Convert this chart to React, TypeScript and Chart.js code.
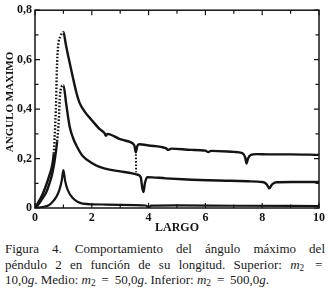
import React, { useEffect, useRef } from "react";
import { Chart, registerables } from "chart.js";

Chart.register(...registerables);

// Superior: m2 = 10,0 g
const xTop = [0, 0.1, 0.2, 0.3, 0.4, 0.5, 0.6, 0.66, 0.72, 0.745, 0.77, 0.81, 0.9, 1.0, 1.08, 1.15, 1.33, 1.45, 1.57, 1.75, 2.0, 2.27, 2.45, 2.5, 2.55, 2.97, 3.2, 3.43, 3.5, 3.55, 3.6, 3.67, 4.0, 4.6, 4.7, 4.8, 5.5, 6.0, 6.1, 6.2, 7.0, 7.3, 7.4, 7.45, 7.5, 7.6, 7.8, 8.2, 9.0, 10];
const yTop = [0, 0.02, 0.04, 0.065, 0.095, 0.13, 0.17, 0.22, 0.36, 0.44, 0.56, 0.65, 0.695, 0.712, 0.665, 0.625, 0.53, 0.47, 0.425, 0.39, 0.355, 0.32, 0.302, 0.292, 0.3, 0.28, 0.272, 0.262, 0.252, 0.225, 0.25, 0.258, 0.253, 0.242, 0.235, 0.24, 0.235, 0.232, 0.226, 0.231, 0.227, 0.222, 0.205, 0.18, 0.2, 0.215, 0.218, 0.217, 0.217, 0.215];

// Medio: m2 = 50,0 g
const xMid = [0, 0.1, 0.2, 0.3, 0.4, 0.51, 0.6, 0.69, 0.78, 0.84, 0.87, 0.93, 1.0, 1.1, 1.22, 1.35, 1.47, 1.68, 2.03, 2.3, 2.62, 3.0, 3.43, 3.6, 3.72, 3.78, 3.82, 3.87, 3.95, 4.6, 5.2, 5.8, 6.9, 7.5, 8.0, 8.15, 8.25, 8.35, 8.5, 9.0, 10];
const yMid = [0, 0.012, 0.028, 0.045, 0.065, 0.1, 0.135, 0.19, 0.27, 0.36, 0.44, 0.49, 0.497, 0.42, 0.33, 0.28, 0.25, 0.21, 0.18, 0.165, 0.155, 0.148, 0.14, 0.135, 0.125, 0.08, 0.065, 0.1, 0.125, 0.12, 0.116, 0.113, 0.11, 0.108, 0.105, 0.097, 0.08, 0.096, 0.104, 0.105, 0.105];

// Inferior: m2 = 500,0 g
const xLow = [0, 0.3, 0.5, 0.63, 0.75, 0.86, 0.94, 1.0, 1.06, 1.15, 1.33, 1.68, 2.5, 3.5, 3.9, 4.0, 4.1, 5.0, 7.0, 10];
const yLow = [0, 0.005, 0.012, 0.026, 0.045, 0.073, 0.11, 0.153, 0.11, 0.073, 0.04, 0.018, 0.014, 0.012, 0.01, 0.004, 0.01, 0.011, 0.009, 0.008];

// Salto punteado entre la curva superior y la media
const xJump = [3.55, 3.56];
const yJump = [0.245, 0.145];

const xTickValues = [0, 1, 2, 3, 4, 5, 6, 7, 8, 9, 10];
const yTickValues = [0, 0.1, 0.2, 0.3, 0.4, 0.5, 0.6, 0.7, 0.8];

const xTitle = "LARGO";
const yTitle = "ANGULO MAXIMO";

const toPoints = (xs: number[], ys: number[]) => xs.map((x, i) => ({ x, y: ys[i] }));

const INK = "#141414";
const TICK_FONT = { family: "'Liberation Serif', serif", size: 12, weight: "bold" as const };

const framePlugin = {
  id: "frameTicks",
  afterDraw(chart: any) {
    const { ctx, chartArea } = chart;
    const { left, right, top, bottom } = chartArea;
    const xs = chart.scales.x;
    const ys = chart.scales.y;
    ctx.save();
    ctx.strokeStyle = INK;
    ctx.lineWidth = 1.5;
    ctx.strokeRect(left, top, right - left, bottom - top);
    ctx.lineWidth = 1.2;
    ctx.beginPath();
    xTickValues.forEach((v) => {
      const px = xs.getPixelForValue(v);
      const len = v % 2 === 0 ? 5 : 3.5;
      ctx.moveTo(px, bottom);
      ctx.lineTo(px, bottom - len);
      ctx.moveTo(px, top);
      ctx.lineTo(px, top + len);
    });
    yTickValues.forEach((v, i) => {
      const py = ys.getPixelForValue(v);
      const len = i % 2 === 0 ? 5 : 3.5;
      ctx.moveTo(left, py);
      ctx.lineTo(left + len, py);
      ctx.moveTo(right, py);
      ctx.lineTo(right - len, py);
    });
    ctx.stroke();
    // y axis title
    ctx.fillStyle = INK;
    ctx.font = "bold 11px 'Liberation Serif', serif";
    ctx.textAlign = "center";
    ctx.textBaseline = "middle";
    ctx.translate(10, 102);
    ctx.rotate(-Math.PI / 2);
    ctx.fillText(yTitle, 0, 0);
    ctx.restore();
  },
};

export default function App() {
  const ref = useRef<HTMLCanvasElement | null>(null);

  useEffect(() => {
    if (!ref.current) return;
    const dotted = (ctx: any) =>
      ctx.p1.parsed.y > ctx.p0.parsed.y && ctx.p0.parsed.y >= 0.2 && ctx.p1.parsed.x <= 1.0 ? [1.6, 1.8] : undefined;
    const lineStyle = {
      borderColor: INK,
      borderWidth: 2.4,
      pointRadius: 0,
      fill: false,
      showLine: true,
      cubicInterpolationMode: "monotone" as const,
      segment: { borderDash: dotted },
    };
    const chart = new Chart(ref.current, {
      type: "scatter",
      data: {
        datasets: [
          { label: "m2 = 10,0g", data: toPoints(xTop, yTop), ...lineStyle },
          { label: "m2 = 50,0g", data: toPoints(xMid, yMid), ...lineStyle },
          { label: "m2 = 500,0g", data: toPoints(xLow, yLow), ...lineStyle, borderWidth: 2.2 },
          {
            label: "salto",
            data: toPoints(xJump, yJump),
            borderColor: INK,
            borderWidth: 2,
            pointRadius: 0,
            showLine: true,
            borderDash: [1.6, 1.8],
          },
        ],
      },
      options: {
        responsive: false,
        animation: false,
        devicePixelRatio: 1,
        layout: { padding: { left: 0, top: 10, right: 7, bottom: 0 } },
        plugins: { legend: { display: false }, tooltip: { enabled: false } },
        scales: {
          x: {
            type: "linear",
            min: 0,
            max: 10,
            grid: { display: false, drawTicks: false },
            border: { display: false },
            afterFit: (s: any) => {
              s.height = 28;
            },
            afterBuildTicks: (s: any) => {
              s.ticks = xTickValues.map((v) => ({ value: v }));
            },
            ticks: {
              autoSkip: false,
              maxRotation: 0,
              padding: 3,
              color: INK,
              font: TICK_FONT,
              callback: (v: any) => (Number(v) % 2 === 0 ? String(v) : ""),
            },
            title: {
              display: true,
              text: xTitle,
              color: INK,
              font: { family: "'Liberation Serif', serif", size: 12, weight: "bold" },
              padding: { top: 0, bottom: 1 },
            },
          },
          y: {
            type: "linear",
            min: 0,
            max: 0.8,
            grid: { display: false, drawTicks: false },
            border: { display: false },
            afterFit: (s: any) => {
              s.width = 35;
            },
            afterBuildTicks: (s: any) => {
              s.ticks = yTickValues.map((v) => ({ value: v }));
            },
            ticks: {
              autoSkip: false,
              padding: 3,
              color: INK,
              font: TICK_FONT,
              callback: (v: any) => {
                const n = Math.round(Number(v) * 10);
                if (n % 2 !== 0) return "";
                return n === 0 ? "0" : (n / 10).toFixed(1).replace(".", ",");
              },
            },
          },
        },
      },
      plugins: [framePlugin],
    });
    return () => chart.destroy();
  }, []);

  const lineStyle: React.CSSProperties = {
    textAlign: "justify",
    textAlignLast: "justify",
    height: 15.5,
  };
  const m2 = (
    <>
      <i>m</i>
      <sub style={{ fontSize: "0.72em", verticalAlign: "-0.25em", lineHeight: 0 }}>2</sub>
    </>
  );
  const eq = <span style={{ margin: "0 0.2em" }}>=</span>;

  return (
    <div
      style={{
        position: "fixed",
        left: 0,
        top: 0,
        width: 328,
        height: 304,
        background: "#fff",
        overflow: "hidden",
      }}
    >
      <canvas ref={ref} width={328} height={236} style={{ position: "absolute", left: 0, top: 0, width: 328, height: 236 }} />
      <div
        style={{
          position: "absolute",
          left: 5,
          top: 241,
          width: 320,
          fontFamily: "'Liberation Serif', serif",
          fontSize: 13,
          lineHeight: "15.5px",
          color: "#1a1a1a",
        }}
      >
        <div style={lineStyle}>Figura 4. Comportamiento del ángulo máximo del</div>
        <div style={lineStyle}>
          péndulo 2 en función de su longitud. Superior: {m2} {eq}
        </div>
        <div style={{ height: 15.5, whiteSpace: "nowrap" }}>
          10,0<i>g</i>. Medio: {m2} {eq} 50,0<i>g</i>. Inferior: {m2} {eq} 500,0<i>g</i>.
        </div>
      </div>
    </div>
  );
}
